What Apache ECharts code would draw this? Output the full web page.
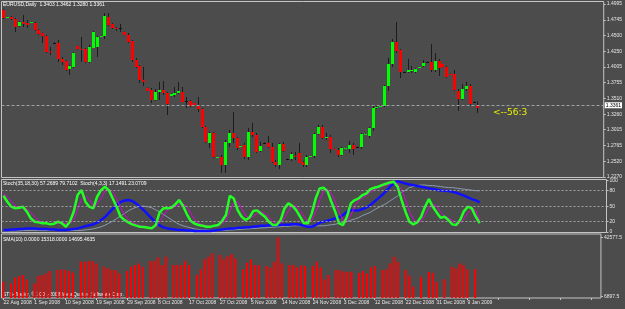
<!DOCTYPE html>
<html>
<head>
<meta charset="utf-8">
<title>EURUSD Daily</title>
<script src="https://cdn.jsdelivr.net/npm/echarts@6/dist/echarts.min.js"></script>
<style>
  html, body { margin: 0; padding: 0; background: #4b4c4b; }
  #chart { width: 625px; height: 309px; }
</style>
</head>
<body>
<div id="chart"></div>
<script>
// daily bars 22 Aug 2008 .. 12 Jan 2009 (Sunday bars included)
const opens = [
  1.4901, 1.4785, 1.4790, 1.4759, 1.4649, 1.4712, 1.4696, 1.4705, 1.4696, 1.4586,
  1.4538, 1.4491, 1.4245, 1.4381, 1.4381, 1.4129, 1.4097, 1.3971, 1.4003, 1.4334,
  1.4290, 1.4286, 1.4082, 1.4302, 1.4318, 1.4485, 1.4491, 1.4790, 1.4680, 1.4620,
  1.4617, 1.4554, 1.4507, 1.4412, 1.4113, 1.4019, 1.3800, 1.3672, 1.3641, 1.3483,
  1.3609, 1.3641, 1.3593, 1.3546, 1.3562, 1.3593, 1.3609, 1.3467, 1.3467, 1.3436,
  1.3389, 1.3341, 1.3058, 1.2806, 1.2964, 1.2580, 1.2586, 1.2460, 1.2806, 1.2964,
  1.2885, 1.2755, 1.2775, 1.2586, 1.2979, 1.2932, 1.2680, 1.2806, 1.2806, 1.2743,
  1.2507, 1.2460, 1.2790, 1.2554, 1.2554, 1.2605, 1.2649, 1.2507, 1.2460, 1.2598,
  1.2601, 1.2948, 1.3058, 1.2895, 1.2901, 1.2715, 1.2696, 1.2617, 1.2727, 1.2712,
  1.2775, 1.2743, 1.2743, 1.2945, 1.2916, 1.3042, 1.3365, 1.3380, 1.3389, 1.3704,
  1.4050, 1.4397, 1.4271, 1.3924, 1.3924, 1.3940, 1.3924, 1.4000, 1.4019, 1.4082,
  1.4082, 1.3956, 1.4097, 1.4050, 1.4003, 1.3893, 1.3893, 1.3625, 1.3499, 1.3656,
  1.3704, 1.3452, 1.3403
];
const highs = [
  1.4917, 1.4795, 1.4806, 1.4775, 1.4727, 1.4822, 1.4743, 1.4718, 1.4712, 1.4601,
  1.4545, 1.4507, 1.4318, 1.4390, 1.4428, 1.4160, 1.4113, 1.4034, 1.4239, 1.4340,
  1.4475, 1.4302, 1.4350, 1.4570, 1.4491, 1.4495, 1.4853, 1.4853, 1.4696, 1.4633,
  1.4680, 1.4560, 1.4538, 1.4428, 1.4145, 1.4034, 1.4003, 1.3680, 1.3672, 1.3656,
  1.3767, 1.3782, 1.3609, 1.3585, 1.3688, 1.3767, 1.3688, 1.3530, 1.3483, 1.3440,
  1.3530, 1.3357, 1.3074, 1.2979, 1.2979, 1.2590, 1.2617, 1.2853, 1.3011, 1.3294,
  1.2901, 1.2765, 1.2806, 1.3042, 1.3121, 1.2964, 1.2822, 1.2815, 1.2916, 1.2806,
  1.2538, 1.2806, 1.2822, 1.2560, 1.2664, 1.2664, 1.2806, 1.2523, 1.2617, 1.2605,
  1.2964, 1.3090, 1.3090, 1.2964, 1.2932, 1.2720, 1.2727, 1.2743, 1.2743, 1.2838,
  1.2806, 1.2750, 1.2964, 1.2960, 1.3058, 1.3389, 1.3404, 1.3395, 1.3719, 1.4145,
  1.4444, 1.4712, 1.4286, 1.3930, 1.4129, 1.4019, 1.3987, 1.4010, 1.4113, 1.4090,
  1.4365, 1.4223, 1.4129, 1.4055, 1.4019, 1.3900, 1.3956, 1.3656, 1.3735, 1.3767,
  1.3735, 1.3460, 1.3462
];
const lows = [
  1.4759, 1.4780, 1.4743, 1.4554, 1.4633, 1.4633, 1.4617, 1.4700, 1.4570, 1.4507,
  1.4381, 1.4223, 1.4192, 1.4375, 1.4082, 1.4034, 1.3940, 1.3877, 1.3987, 1.4280,
  1.4082, 1.4066, 1.4066, 1.4302, 1.4160, 1.4480, 1.4444, 1.4649, 1.4601, 1.4570,
  1.4554, 1.4500, 1.4381, 1.4082, 1.3987, 1.3751, 1.3704, 1.3620, 1.3436, 1.3467,
  1.3483, 1.3562, 1.3247, 1.3540, 1.3530, 1.3578, 1.3452, 1.3357, 1.3373, 1.3400,
  1.3294, 1.3042, 1.2806, 1.2727, 1.2570, 1.2575, 1.2334, 1.2334, 1.2743, 1.2806,
  1.2696, 1.2750, 1.2554, 1.2538, 1.2901, 1.2649, 1.2664, 1.2795, 1.2727, 1.2491,
  1.2428, 1.2397, 1.2664, 1.2550, 1.2523, 1.2538, 1.2491, 1.2428, 1.2428, 1.2595,
  1.2570, 1.2932, 1.2869, 1.2853, 1.2649, 1.2705, 1.2586, 1.2601, 1.2712, 1.2649,
  1.2617, 1.2735, 1.2712, 1.2935, 1.2885, 1.2995, 1.3341, 1.3375, 1.3373, 1.3625,
  1.4003, 1.4223, 1.3830, 1.3918, 1.3908, 1.3908, 1.3908, 1.3995, 1.4003, 1.4075,
  1.3924, 1.3924, 1.3861, 1.3998, 1.3830, 1.3885, 1.3625, 1.3310, 1.3483, 1.3625,
  1.3404, 1.3445, 1.3280
];
const closes = [
  1.4775, 1.4790, 1.4759, 1.4633, 1.4712, 1.4680, 1.4664, 1.4712, 1.4586, 1.4523,
  1.4491, 1.4239, 1.4239, 1.4381, 1.4129, 1.4082, 1.3956, 1.4019, 1.4223, 1.4286,
  1.4280, 1.4082, 1.4318, 1.4554, 1.4475, 1.4491, 1.4806, 1.4664, 1.4617, 1.4615,
  1.4617, 1.4507, 1.4397, 1.4113, 1.4003, 1.3798, 1.3770, 1.3625, 1.3483, 1.3609,
  1.3641, 1.3593, 1.3420, 1.3578, 1.3593, 1.3625, 1.3452, 1.3467, 1.3389, 1.3404,
  1.3341, 1.3058, 1.2822, 1.2964, 1.2586, 1.2586, 1.2460, 1.2822, 1.2964, 1.2885,
  1.2727, 1.2759, 1.2586, 1.2979, 1.2932, 1.2664, 1.2759, 1.2806, 1.2743, 1.2507,
  1.2460, 1.2790, 1.2680, 1.2554, 1.2633, 1.2601, 1.2491, 1.2460, 1.2586, 1.2601,
  1.2948, 1.3058, 1.2885, 1.2901, 1.2712, 1.2712, 1.2617, 1.2727, 1.2730, 1.2775,
  1.2712, 1.2743, 1.2948, 1.2950, 1.3042, 1.3357, 1.3373, 1.3389, 1.3704, 1.4050,
  1.4397, 1.4255, 1.3924, 1.3924, 1.3956, 1.3956, 1.3971, 1.4003, 1.4066, 1.4082,
  1.3956, 1.4097, 1.3987, 1.4003, 1.3845, 1.3890, 1.3641, 1.3499, 1.3656, 1.3704,
  1.3420, 1.3452, 1.3361
];
const volumes = [
  15900, 2000, 14900, 18300, 19300, 19900, 17300, 2000, 14900, 19300,
  19900, 20900, 22300, 2000, 22900, 23300, 22900, 22300, 21300, 2000,
  27900, 27900, 28300, 28300, 26900, 2000, 24900, 23900, 22900, 22900,
  20900, 2000, 22300, 24900, 25900, 26900, 24900, 2000, 28300, 28300,
  30500, 25900, 30900, 2000, 25900, 25900, 25900, 28300, 25900, 2000,
  19900, 23300, 29300, 30900, 32900, 2000, 31900, 29300, 31300, 32500,
  29900, 2000, 23300, 27300, 29300, 25900, 25900, 2000, 25300, 24300,
  27900, 42577.5, 26900, 2000, 25900, 25900, 24500, 25700, 25300, 2000,
  25300, 27900, 24500, 17300, 19900, 2000, 22900, 22900, 21900, 21900,
  21700, 2000, 21300, 22300, 20900, 24500, 25300, 2000, 22900, 23300,
  26900, 30900, 27900, 2000, 22900, 19500, 12900, 2000, 18900, 2000,
  21700, 21300, 15900, 2000, 17300, 2000, 24900, 23900, 26900, 25900,
  23300, 2000, 23300
];
// Stoch(35,18,30): main (blue) and signal (grey)
const slowStochMain = [
  4, 4, 5, 5, 6, 6, 7, 7, 7, 6,
  6, 6, 5, 5, 4, 4, 4, 5, 6, 7,
  9, 11, 13, 15, 18, 23, 29, 37, 45, 52,
  58, 61, 62, 60, 55, 49, 42, 34, 26, 19,
  13, 9, 7, 6, 5, 4, 4, 3, 3, 2,
  2, 2, 2, 2, 3, 4, 5, 6, 7, 7,
  8, 8, 9, 9, 10, 11, 12, 12, 13, 13,
  13, 14, 14, 14, 15, 15, 14, 12, 10, 10.3,
  13.5, 18.1, 20, 21.9, 23.9, 26.4, 28.4, 32.9, 39.3, 42.5,
  41.9, 41.9, 44.5, 47.7, 52.2, 58.7, 65.1, 71.6, 79.3, 87.7,
  94.1, 98.6, 96.1, 94.1, 92.2, 90.9, 89, 87.7, 86.4, 84.5,
  83.2, 81.9, 80.6, 80, 79.3, 78, 76.1, 73.5, 70.3, 67.1,
  63.8, 61.2, 57.3
];
const slowStochSignal = [
  2, 2, 2, 2, 2, 3, 3, 3, 3, 3,
  3, 3, 3, 3, 3, 3, 3, 3, 3, 3,
  3, 4, 5, 6, 8, 10, 13, 17, 21, 26,
  31, 36, 41, 45, 48, 50, 50, 49, 47, 43,
  39, 34, 29, 24, 19, 15, 12, 10, 8, 6,
  5, 4, 4, 3, 3, 3, 3, 3, 4, 4,
  5, 5, 6, 6, 7, 7, 8, 8, 9, 9,
  10, 10, 11, 11, 12, 12, 12, 12, 12, 12,
  12, 12, 12, 13, 14, 15, 17, 18, 20, 23,
  25, 28, 32, 35, 38, 43, 47, 51, 55, 60,
  65, 70, 77, 81, 86, 88, 90, 91, 91, 90,
  90, 89, 88, 87, 86, 86, 85, 84, 83, 82,
  81, 80, 79.7
];
// Stoch(4,3,3): main (green) and signal (magenta)
const fastStochMain = [
  70.3, 58.7, 49, 45.8, 47.1, 49, 39.3, 26.4, 20, 18.7,
  16.8, 16.8, 14.8, 16.1, 20, 16.8, 10.3, 20, 39.3, 71.6,
  81.2, 58.7, 49, 45.8, 68.3, 81.2, 87.7, 81.2, 65.1, 49,
  29.7, 23.2, 18.7, 14.8, 12.3, 10.3, 9.7, 8.4, 7.1, 13.5,
  38, 45.8, 45.8, 47.1, 53.5, 61.9, 50.9, 34.2, 21.3, 16.1,
  13.5, 12.3, 10.3, 10.3, 12.3, 13.5, 21.3, 32.9, 70.3, 65.1,
  42.5, 29.7, 23.2, 27.7, 40.6, 41.9, 35.5, 29.7, 20, 13.5,
  13.5, 23.2, 45.8, 55.5, 50.9, 42.5, 29.7, 16.8, 16.8, 36.1,
  65.1, 84.5, 85.8, 79.3, 58.7, 39.3, 16.8, 13.5, 29.7, 55.5,
  61.9, 65.1, 71.6, 74.8, 83.2, 85.8, 87.7, 90.9, 93.5, 96.1,
  97.4, 87.7, 61.9, 39.3, 20, 14.8, 18.7, 29.7, 49, 63.8,
  49, 38, 27.7, 29.7, 23.2, 14.8, 13.5, 23.2, 40.6, 49,
  45.8, 29.7, 17.1
];
const fastStochSignal = [
  75, 68, 59, 51, 47, 47, 45, 38, 29, 22,
  19, 17, 16, 16, 17, 18, 16, 16, 23, 44,
  64, 70, 63, 51, 54, 65, 79, 83, 78, 65,
  48, 34, 24, 19, 15, 12, 11, 9, 8, 10,
  20, 32, 43, 46, 49, 54, 55, 49, 36, 24,
  17, 14, 12, 11, 11, 12, 16, 23, 41, 56,
  59, 46, 32, 27, 30, 36, 39, 36, 28, 21,
  16, 17, 27, 41, 51, 50, 41, 30, 21, 23,
  39, 62, 79, 83, 75, 59, 38, 23, 20, 33,
  49, 61, 66, 71, 77, 81, 86, 88, 91, 93,
  96, 94, 82, 63, 40, 25, 18, 21, 32, 47,
  54, 50, 38, 31, 27, 23, 17, 17, 26, 38,
  45, 42, 23
];

const dateLabels = [
  '22 Aug 2008', '1 Sep 2008', '10 Sep 2008', '19 Sep 2008', '29 Sep 2008',
  '8 Oct 2008', '17 Oct 2008', '27 Oct 2008', '5 Nov 2008', '14 Nov 2008',
  '24 Nov 2008', '3 Dec 2008', '12 Dec 2008', '22 Dec 2008', '31 Dec 2008', '9 Jan 2009'
];
const priceTicks = [1.4995, 1.4745, 1.4500, 1.4250, 1.4005, 1.3755, 1.3510, 1.3260, 1.3015, 1.2765, 1.2520, 1.2270];
const stochTicks = [0, 20, 50, 80, 100];
const stochLevels = [20, 50, 80];
const volumeTicks = [6897.5, 42577.5];
const lastPrice = 1.3361;

const SLOTS = 155; // bars + empty space on the right (chart shift)
const LABEL_STEP = 8;
const categories = Array.from({ length: SLOTS }, (_, i) => String(i));

const FONT = 'Liberation Sans, Arial, sans-serif';
const BORDER = '#c4c4c4';
const TEXT = '#e6e6e6';

const candleData = opens.map((o, i) => [i, o, closes[i], lows[i], highs[i]]);

function renderCandle(params, api) {
  const i = api.value(0);
  const o = api.value(1), c = api.value(2), l = api.value(3), h = api.value(4);
  const pH = api.coord([i, h]);
  const pL = api.coord([i, l]);
  const pO = api.coord([i, o]);
  const pC = api.coord([i, c]);
  const x = Math.round(pH[0]);
  const top = Math.min(pO[1], pC[1]);
  const bot = Math.max(pO[1], pC[1]);
  const color = c > o ? '#00ff00' : c < o ? '#ff0000' : '#111111';
  return {
    type: 'group',
    children: [
      {
        type: 'line',
        shape: { x1: x + 0.5, y1: pH[1], x2: x + 0.5, y2: pL[1] },
        style: { stroke: '#1c1c1c', lineWidth: 1 }
      },
      {
        type: 'rect',
        shape: { x: x - 1, y: top, width: 3, height: Math.max(1, bot - top) },
        style: { fill: color }
      }
    ]
  };
}

function hiddenX(gridIndex) {
  return {
    type: 'category', gridIndex, data: categories, boundaryGap: true,
    axisLine: { show: false }, axisTick: { show: false }, axisLabel: { show: false }
  };
}

function rightAxis(gridIndex, min, max, ticks, fmt) {
  return {
    type: 'value', gridIndex, position: 'right', min, max,
    splitLine: { show: false },
    axisLine: { show: false },
    axisTick: { show: true, customValues: ticks, length: 2, lineStyle: { color: BORDER } },
    axisLabel: {
      customValues: ticks, formatter: fmt, color: TEXT,
      fontSize: 5, fontFamily: FONT, margin: 3
    }
  };
}

const chart = echarts.init(document.getElementById('chart'));
chart.setOption({
  backgroundColor: '#4b4c4b',
  animation: false,
  grid: [
    { left: 1.5, top: 1.5, width: 605, height: 176, show: true, borderColor: BORDER, borderWidth: 1 },
    { left: 1.5, top: 179.5, width: 605, height: 53, show: true, borderColor: BORDER, borderWidth: 1 },
    { left: 1.5, top: 234, width: 605, height: 64, show: true, borderColor: BORDER, borderWidth: 1 }
  ],
  xAxis: [
    hiddenX(0),
    hiddenX(1),
    {
      type: 'category', gridIndex: 2, data: categories, boundaryGap: true,
      axisLine: { show: false },
      axisTick: { show: true, interval: LABEL_STEP - 1, alignWithLabel: true, length: 2, lineStyle: { color: BORDER } },
      axisLabel: {
        interval: LABEL_STEP - 1, align: 'left', color: TEXT, fontSize: 5, fontFamily: FONT, margin: 2,
        formatter: (v, idx) => dateLabels[idx / LABEL_STEP] || ''
      }
    }
  ],
  yAxis: [
    rightAxis(0, 1.22621, 1.50344, priceTicks, v => v.toFixed(4)),
    rightAxis(1, -0.97, 101.74, stochTicks, v => String(v)),
    rightAxis(2, 6116, 44560, volumeTicks, v => v.toFixed(1))
  ],
  series: [
    {
      type: 'custom', name: 'EURUSD', xAxisIndex: 0, yAxisIndex: 0,
      renderItem: renderCandle, data: candleData, clip: true,
      encode: { x: 0, y: [1, 2, 3, 4] }
    },
    {
      type: 'line', xAxisIndex: 0, yAxisIndex: 0, data: [], silent: true,
      markLine: {
        silent: true, symbol: ['none', 'none'],
        lineStyle: { color: '#9aa2a8', type: [3, 2], width: 1 },
        label: {
          show: true, position: 'end', formatter: lastPrice.toFixed(4), distance: 1,
          backgroundColor: '#ffffff', color: '#000000', fontSize: 5, fontFamily: FONT, padding: [1, 1, 0, 1]
        },
        data: [{ yAxis: lastPrice }]
      }
    },
    {
      type: 'line', name: 'slowSignal', xAxisIndex: 1, yAxisIndex: 1, data: slowStochSignal,
      showSymbol: false, lineStyle: { color: '#8a9ab4', width: 1 },
      markLine: {
        silent: true, symbol: ['none', 'none'],
        lineStyle: { color: '#a0a0a0', type: [2, 2], width: 1 },
        label: { show: false },
        data: stochLevels.map(v => ({ yAxis: v }))
      }
    },
    {
      type: 'line', name: 'slowMain', xAxisIndex: 1, yAxisIndex: 1, data: slowStochMain,
      showSymbol: false, lineStyle: { color: '#1010ff', width: 2.5 }
    },
    {
      type: 'line', name: 'fastSignal', xAxisIndex: 1, yAxisIndex: 1, data: fastStochSignal,
      showSymbol: false, lineStyle: { color: '#e000e0', width: 1 }
    },
    {
      type: 'line', name: 'fastMain', xAxisIndex: 1, yAxisIndex: 1, data: fastStochMain,
      showSymbol: false, lineStyle: { color: '#22ff22', width: 2.5 }
    },
    {
      type: 'bar', name: 'volume', xAxisIndex: 2, yAxisIndex: 2, data: volumes,
      barWidth: 2, itemStyle: { color: '#ff0000' }
    }
  ],
  graphic: [
    { type: 'text', left: 3, top: 2, style: { text: 'EURUSD,Daily  1.3403 1.3462 1.3280 1.3361', fill: '#ffffff', fontSize: 5, fontFamily: FONT } },
    { type: 'text', left: 3, top: 181, style: { text: 'Stoch(35,18,30) 57.2689 79.7102  Stoch(4,3,3) 17.1491 23.0709', fill: '#ffffff', fontSize: 5, fontFamily: FONT } },
    { type: 'text', left: 3, top: 237, style: { text: 'SMA(10) 0.0000 15318.0000 14695.4635', fill: '#ffffff', fontSize: 5, fontFamily: FONT } },
    { type: 'text', left: 3, top: 292, style: { text: 'STB-Trader, \u00a9 2001-2008 MetaQuotes Software Corp.', fill: '#ffffff', fontSize: 5, fontFamily: FONT } },
    { type: 'text', left: 493, top: 108, style: { text: '<--56:3', fill: '#f0f000', fontSize: 9, fontFamily: 'DejaVu Sans, sans-serif' } }
  ]
});
</script>
</body>
</html>
